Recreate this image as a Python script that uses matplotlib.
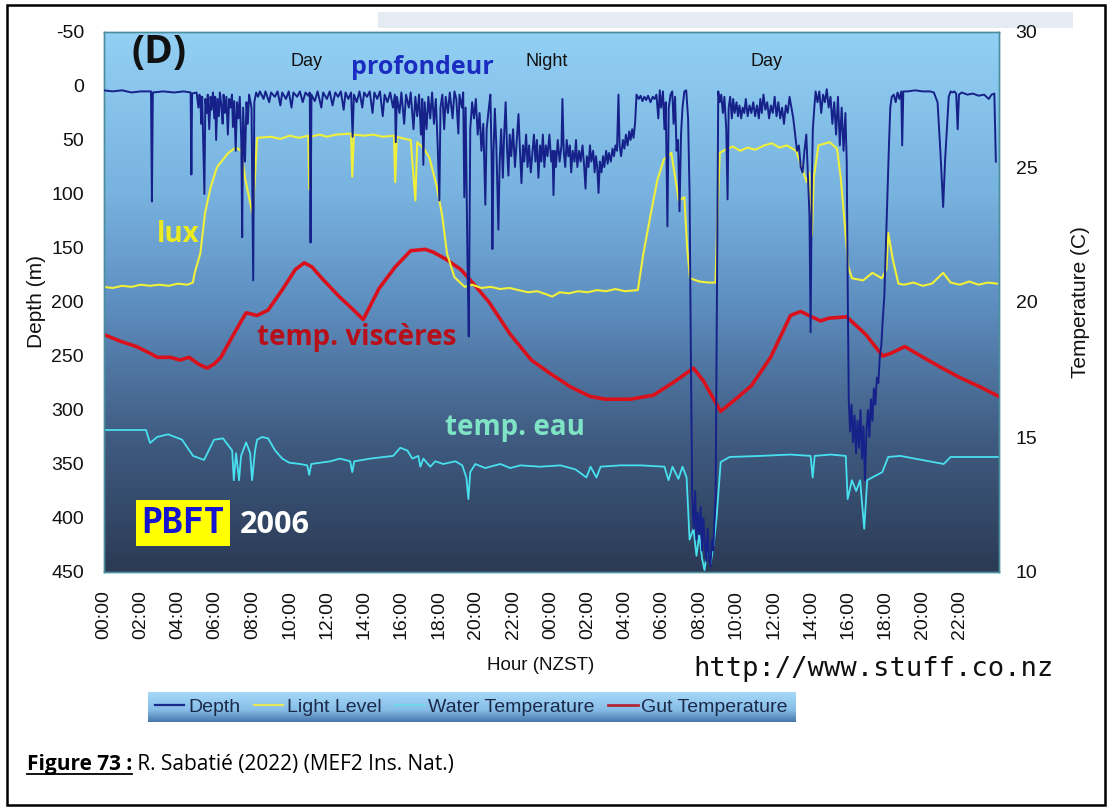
import numpy as np
import matplotlib
matplotlib.use('Agg')
import matplotlib.pyplot as plt
from matplotlib.colors import LinearSegmentedColormap
from matplotlib.patches import Rectangle
from matplotlib.lines import Line2D

plt.rcParams['font.family'] = ['Liberation Sans', 'DejaVu Sans']
plt.rcParams['axes.unicode_minus'] = False

# ---------------- data (hours since 00:00 of day 1) ----------------
depth_h = [0, 0.5, 1.0, 1.5, 2.0, 2.55, 2.6, 2.65, 3.2, 3.8, 4.3, 4.68, 4.72, 4.76, 5.0, 5.1, 5.15,
           5.2, 5.25, 5.3, 5.42, 5.47, 5.55, 5.6, 5.68, 5.75, 5.8, 5.88, 5.95, 6.0, 6.05, 6.12, 6.2, 6.25, 6.33, 6.4, 6.45,
           6.52, 6.6, 6.68, 6.75, 6.82, 6.9, 6.95, 7.02, 7.1, 7.17, 7.25, 7.32, 7.4, 7.45, 7.5, 7.6, 7.68, 7.75, 7.82, 7.95,
           8.04, 8.1, 8.2, 8.3,
           8.4, 8.6, 8.7, 8.9, 9.0, 9.2, 9.35, 9.5, 9.6, 9.8, 9.95, 10.1, 10.2, 10.4, 10.55, 10.7, 10.85, 11.0, 11.08, 11.12,
           11.17, 11.35, 11.5, 11.7, 11.8, 12.0, 12.15, 12.3, 12.45, 12.6, 12.75, 12.9, 13.0, 13.15, 13.3, 13.38, 13.45, 13.6, 13.75, 13.9,
           14.0, 14.15, 14.3, 14.45, 14.55, 14.7, 14.85, 15.0, 15.1, 15.25, 15.4, 15.55, 15.65, 15.7, 15.76, 15.9, 16.0, 16.15, 16.25, 16.4,
           16.5, 16.65, 16.75, 16.85, 16.95, 17.05, 17.12, 17.18, 17.25, 17.35, 17.45, 17.55, 17.65, 17.75, 17.85, 17.95, 18.04, 18.1, 18.2, 18.3,
           18.38, 18.5, 18.6, 18.75, 18.85, 18.95, 19.06, 19.12, 19.25, 19.32, 19.38, 19.45, 19.55, 19.62, 19.7, 19.8,
           19.9, 20.0, 20.1, 20.2, 20.3, 20.4, 20.51, 20.58, 20.7, 20.78, 20.85, 20.89, 20.95, 21.02, 21.1, 21.21, 21.28, 21.36, 21.45, 21.52,
           21.6, 21.68, 21.75, 21.82, 21.9, 22.0, 22.1, 22.2, 22.29, 22.37, 22.45, 22.53, 22.6, 22.7, 22.78, 22.86, 22.95, 23.04, 23.12, 23.2,
           23.28, 23.36, 23.45, 23.52, 23.6, 23.68, 23.76, 23.85, 23.95, 24.05, 24.12, 24.17, 24.23, 24.3, 24.4, 24.5, 24.6, 24.65, 24.72, 24.8,
           24.88, 24.97, 25.05, 25.12, 25.2, 25.3, 25.38, 25.45, 25.55, 25.63, 25.73, 25.82, 25.89, 25.96, 26.05, 26.13, 26.2, 26.3, 26.38, 26.45,
           26.52, 26.59, 26.66, 26.75, 26.83, 26.9, 27.0, 27.08, 27.15, 27.25, 27.34, 27.42, 27.5, 27.58, 27.66, 27.72, 27.8, 27.9, 27.98, 28.06,
           28.15, 28.24, 28.31, 28.4, 28.47, 28.55,
           28.63, 28.75, 28.85, 28.95, 29.05, 29.15, 29.25, 29.38, 29.5, 29.6, 29.7, 29.8, 29.88, 29.95, 30.05, 30.13, 30.2, 30.29, 30.36, 30.46,
           30.55, 30.62, 30.7, 30.78, 30.86, 30.94, 31.02, 31.1, 31.2, 31.3, 31.4,
           31.48, 31.55, 31.62, 31.7, 31.78, 31.85, 31.92, 32.0, 32.08, 32.15, 32.22, 32.3, 32.38, 32.45, 32.52, 32.6, 32.68, 32.75, 32.82, 32.88,
           32.95, 33.02,
           33.1, 33.18, 33.27, 33.35, 33.45, 33.52, 33.58, 33.66, 33.75, 33.82, 33.9, 34.0, 34.08, 34.16, 34.25, 34.33, 34.42, 34.5, 34.6, 34.7,
           34.8, 34.9, 35.0, 35.1, 35.2, 35.28, 35.36, 35.45, 35.55, 35.65, 35.75, 35.85, 35.95, 36.05, 36.15, 36.25, 36.35, 36.45, 36.55, 36.65,
           36.75, 36.85, 36.95, 37.05, 37.15, 37.25, 37.35, 37.45, 37.55, 37.65, 37.75, 37.85, 37.92, 37.98, 38.04, 38.1, 38.18, 38.25, 38.35, 38.45,
           38.55, 38.65, 38.75, 38.85, 38.95, 39.05, 39.15, 39.25, 39.35, 39.45, 39.55, 39.65, 39.75, 39.85, 39.92,
           39.98, 40.03, 40.1, 40.18, 40.26, 40.34, 40.42, 40.5, 40.58, 40.66, 40.74, 40.82, 40.9, 40.98, 41.06, 41.14, 41.22, 41.3, 41.38, 41.46,
           41.54, 41.62, 41.7, 41.78, 41.86, 41.94, 42.02, 42.1, 42.18, 42.26, 42.34,
           42.45, 42.55, 42.65, 42.75, 42.85, 42.9, 42.96, 43.2, 43.6, 44.0, 44.4, 44.6, 44.8, 44.95, 45.1, 45.2, 45.3, 45.4, 45.5, 45.6,
           45.7, 45.8, 45.88, 45.95, 46.1, 46.4, 46.7, 47.0, 47.3, 47.55, 47.7, 47.85, 47.93]
depth_m = [4, 5, 4, 6, 5, 5, 107, 6, 5, 6, 5, 6, 82, 7, 6, 20, 8,
           10, 35, 10, 100, 12, 25, 8, 40, 10, 22, 6, 30, 10, 50, 12, 28, 6, 18, 35, 8,
           25, 10, 45, 12, 20, 8, 38, 14, 60, 15, 30, 10, 50, 140, 20, 70, 15, 35, 8, 20,
           180, 15, 6, 10,
           5, 12, 5, 15, 6, 10, 5, 18, 6, 12, 5, 20, 6, 10, 5, 15, 6, 9, 6, 145,
           8, 14, 5, 20, 6, 12, 5, 18, 6, 10, 5, 22, 6, 12, 6, 47, 8, 15, 5, 20,
           6, 10, 5, 25, 6, 12, 5, 28, 8, 15, 6, 20, 8, 52, 10, 25, 6, 35, 8, 20,
           6, 40, 10, 28, 8, 45, 12, 73, 15, 40, 10, 30, 6, 35, 12, 55, 106, 20, 8, 40,
           10, 25, 6, 30, 5, 12, 44, 8, 20, 6, 103, 20, 161, 232, 40, 15,
           30, 12, 45, 25, 60, 35, 110, 40, 20, 8, 70, 151, 60, 21, 55, 133, 70, 40, 85, 45,
           15, 60, 83, 45, 65, 40, 75, 50, 26, 60, 90, 55, 70, 45, 75, 55, 80, 62, 45, 70,
           50, 85, 55, 70, 45, 75, 55, 65, 45, 70, 60, 101, 60, 75, 50, 70, 55, 12, 60, 75,
           50, 65, 55, 80, 60, 70, 50, 75, 60, 70, 55, 75, 95, 65, 75, 55, 70, 60, 80, 65,
           75, 99, 70, 80, 65, 75, 60, 72, 62, 70, 58, 65, 55, 60, 8, 55, 65, 50, 58, 45,
           55, 42, 50, 40, 48, 35,
           8, 12, 9, 14, 10, 13, 9, 15, 10, 12, 8, 30, 4, 20, 5, 40, 15, 130, 20, 8,
           5, 35, 10, 60, 50, 116, 45, 20, 5, 4, 30,
           100, 250, 380, 410, 375, 420, 395, 415, 390, 430, 400, 425, 440, 410, 435, 445, 420, 430, 400, 380,
           200, 5,
           15, 8, 25, 10, 40, 105, 20, 10, 30, 12, 25, 15, 28, 18, 30, 20, 25, 12, 28, 18,
           25, 15, 28, 18, 30, 12, 25, 8, 22, 15, 30, 18, 25, 10, 28, 15, 30, 20, 35, 18,
           25, 10, 20, 30, 45, 60, 55, 75, 80, 60, 45, 90, 120, 228, 100, 40, 20, 5, 15, 5,
           25, 8, 15, 3, 20, 10, 35, 15, 45, 10, 55, 20, 60, 25, 70,
           200, 290, 320, 295, 330, 305, 340, 310, 335, 300, 345, 315, 365, 320, 300, 325, 290, 310, 280, 295,
           270, 275, 250, 240, 215, 195, 150, 105, 60, 20, 10,
           8, 15, 6, 12, 5, 55, 5, 5, 4, 5, 5, 6, 15, 60, 112, 70, 40, 10, 5, 6,
           5, 7, 40, 8, 6, 8, 7, 9, 8, 12, 8, 7, 70]

light_h = [0, 0.5, 1, 1.5, 2, 2.5, 3, 3.5, 4, 4.5, 4.8, 4.9, 5.2, 5.45, 5.75, 6.1, 6.7, 7.1, 7.4, 7.6,
           7.9, 8.0, 8.1, 8.25, 9.0, 9.5, 10.0, 10.5, 11.0, 11.05, 11.12, 11.6, 12.0, 12.5, 13.3, 13.36, 13.45, 14.0, 14.5, 15.0,
           15.6, 15.67, 15.75, 16.2, 16.5, 16.75, 16.85, 17.2, 17.5, 17.9, 18.2, 18.45, 18.85, 19.4, 19.8, 20.3, 20.8, 21.3, 21.8, 22.3,
           22.8, 23.3, 23.8, 24.1, 24.5, 25, 25.5, 26, 26.5, 27, 27.5, 28, 28.7, 29.0, 29.4, 29.75, 30.1, 30.5, 30.9, 31.2,
           31.35, 31.5, 32, 32.5, 32.87, 32.98, 33.1, 33.4, 33.8, 34.2, 34.6, 35, 35.5, 35.9, 36.3, 36.7, 37.2, 37.5, 37.77, 37.9,
           38.05, 38.15, 38.4, 39.0, 39.4, 39.6, 39.8, 40.0, 40.2, 40.8, 41.3, 41.8, 42.05, 42.15, 42.4, 42.7, 43.0, 43.5, 44.0, 44.5,
           45.1, 45.5, 46.0, 46.5, 47.0, 47.5, 48.0]
light_v = [186, 187, 185, 186, 184, 185, 184, 185, 183, 184, 182, 173, 155, 118, 94, 75, 62, 57, 60, 85,
           110, 118, 95, 48, 47, 49, 46, 48, 46, 96, 47, 45, 47, 45, 44, 84, 45, 46, 45, 47,
           46, 89, 47, 49, 50, 106, 52, 58, 66, 93, 121, 155, 177, 186, 184, 187, 186, 188, 187, 189,
           191, 190, 193, 195, 191, 192, 190, 191, 189, 190, 188, 190, 189, 155, 118, 87, 68, 62, 106, 103,
           150, 178, 181, 182, 182, 120, 62, 59, 56, 60, 57, 59, 55, 53, 57, 55, 60, 75, 89, 80,
           138, 85, 55, 52, 58, 85, 125, 167, 178, 180, 173, 178, 170, 136, 161, 183, 184, 182, 185, 183,
           173, 182, 184, 181, 184, 182, 183]

gut_h = [0, 0.89, 1.77, 2.5, 2.9, 3.6, 4.1, 4.6, 5.1, 5.57, 5.94, 6.3, 7.07, 7.66, 8.25, 8.84, 9.6, 10.3, 10.78, 11.2,
         11.7, 12.66, 13.36, 13.95, 14.8, 15.67, 16.5, 17.28, 17.7, 18.36, 19.2, 19.97, 20.7, 21.85, 22.98, 24.0, 25.1, 26.15, 26.96, 28.3,
         29.54, 30.67, 31.69, 32.2, 33.15, 33.95, 34.8, 35.83, 36.9, 37.45, 38.04, 38.52, 38.95, 39.92, 40.94, 41.85, 42.3, 43.04, 43.9, 44.92,
         46.0, 47.1, 48.1]
gut_t = [18.8, 18.55, 18.35, 18.1, 17.95, 17.95, 17.85, 17.95, 17.7, 17.55, 17.7, 17.95, 18.9, 19.6, 19.5, 19.7, 20.45, 21.2, 21.45, 21.3,
         20.9, 20.2, 19.75, 19.35, 20.5, 21.3, 21.9, 21.95, 21.85, 21.6, 21.2, 20.6, 20.0, 18.8, 17.85, 17.35, 16.85, 16.5, 16.4, 16.4,
         16.55, 17.05, 17.55, 17.1, 15.95, 16.4, 16.9, 17.95, 19.5, 19.65, 19.45, 19.3, 19.4, 19.45, 18.8, 18.0, 18.1, 18.35, 18.0, 17.6,
         17.2, 16.85, 16.5]

water_h = [0, 2.28, 2.5, 2.88, 3.47, 4.22, 4.81, 5.4, 5.94, 6.42, 6.91, 7.0, 7.12, 7.28, 7.39, 7.66, 7.88, 7.98, 8.14, 8.25,
           8.52, 8.84, 9.22, 9.6, 9.97, 10.56, 10.94, 11.05, 11.16, 12.18, 12.71, 13.25, 13.36, 13.47, 14.33, 15.56, 15.94, 16.32, 16.59, 16.91,
           17.02, 17.18, 17.55, 17.82, 18.25, 18.9, 19.27, 19.49, 19.6, 19.7, 19.97, 20.5, 21.32, 21.85, 22.39, 23.46, 24.54, 25.35, 25.94, 26.16,
           26.48, 26.7, 27.77, 28.84, 30.13, 30.35, 30.56, 30.88, 31.1, 31.32, 31.48, 31.69, 31.85, 32.0, 32.15, 32.28, 32.45, 32.61, 32.77, 32.93,
           33.15, 33.63, 35.3, 36.9, 37.98, 38.09, 38.2, 39.06, 39.87, 39.97, 40.2, 40.43, 40.64, 40.86, 41.02, 41.29, 41.83, 42.15, 42.8, 45.13,
           45.5, 48.1]
water_t = [15.26, 15.26, 14.78, 15.0, 15.1, 14.9, 14.3, 14.15, 14.9, 14.95, 14.5, 13.4, 14.4, 13.4, 14.3, 14.8, 14.4, 13.4, 14.5, 14.9,
           15.0, 14.95, 14.5, 14.2, 14.05, 14.0, 13.95, 13.6, 14.0, 14.1, 14.2, 14.1, 13.7, 14.1, 14.2, 14.3, 14.6, 14.5, 14.2, 14.3,
           13.9, 14.2, 13.9, 14.1, 14.0, 14.1, 13.95, 13.5, 12.7, 13.7, 14.0, 13.85, 14.0, 13.85, 13.95, 13.9, 13.95, 13.8, 13.5, 13.9,
           13.5, 13.9, 13.95, 13.95, 13.9, 13.4, 13.9, 13.45, 13.9, 13.5, 11.2, 11.6, 10.6, 11.4, 10.5, 10.07, 10.9, 10.3, 11.0, 12.0,
           14.07, 14.26, 14.3, 14.35, 14.3, 13.5, 14.3, 14.35, 14.3, 12.7, 13.4, 13.0, 13.4, 11.6, 13.4, 13.5, 13.7, 14.26, 14.3, 14.0,
           14.26, 14.26]

xtick_hours = list(range(0, 47, 2))
xtick_labels = ['%02d:00' % (h % 24) for h in xtick_hours]
depth_ticks = list(range(-50, 451, 50))
temp_ticks = [10, 15, 20, 25, 30]
legend_labels = ['Depth', 'Light Level', 'Water Temperature', 'Gut Temperature']

# ---------------- figure ----------------
W, H = 1112, 810
fig = plt.figure(figsize=(W / 100, H / 100), dpi=100)
fig.patch.set_facecolor('white')


def fx(x):
    return x / W


def fy(y):
    return 1 - y / H


L, R, T, B = 103.5, 999, 32, 572
ax_t = fig.add_axes([fx(L), fy(B), (R - L) / W, (B - T) / H])
ax_d = ax_t.twinx()

bg_cmap = LinearSegmentedColormap.from_list('bg', [(0, '#93d0f4'), (0.3, '#78b2df'), (0.5, '#5e8fc1'),
                                                   (0.75, '#405c82'), (1.0, '#2b3a55')])
ax_t.imshow(np.linspace(0, 1, 256).reshape(-1, 1), extent=[0, 1, 0, 1], transform=ax_t.transAxes,
            cmap=bg_cmap, aspect='auto', zorder=0)

ax_t.plot(water_h, water_t, color='#48e0ef', lw=1.3, zorder=2)
ax_t.plot(gut_h, gut_t, color='#d8111c', lw=2.6, zorder=3)
ax_d.plot(light_h, light_v, color='#f0f03a', lw=1.5, zorder=2)
ax_d.plot(depth_h, depth_m, color='#16228a', lw=1.4, zorder=3)

ax_t.set_xlim(0, 48.1)
ax_t.set_ylim(10, 30)
ax_d.set_ylim(450, -50)
ax_t.yaxis.tick_right()
ax_t.yaxis.set_label_position('right')
ax_d.yaxis.tick_left()
ax_d.yaxis.set_label_position('left')

ax_t.set_yticks(temp_ticks)
ax_d.set_yticks(depth_ticks)
ax_t.set_xticks(xtick_hours)
ax_t.set_xticklabels(xtick_labels, rotation=90)
ax_t.tick_params(axis='x', length=0, pad=13, labelsize=14, colors='#111111')
ax_t.tick_params(axis='y', length=0, pad=12, labelsize=14, colors='#111111')
ax_d.tick_params(axis='y', length=0, pad=14, labelsize=14, colors='#111111')
ax_t.set_ylabel('Temperature (C)', fontsize=15, color='#111111', labelpad=24)
ax_d.set_ylabel('Depth (m)', fontsize=15, color='#111111', labelpad=4)
for a in (ax_t, ax_d):
    for s in a.spines.values():
        s.set_color('#4b8e9c')
        s.set_linewidth(1.0)

# ---------------- annotations ----------------
def ftxt(x, y, s, **kw):
    return fig.text(fx(x), fy(y), s, **kw)


ftxt(159, 52, '(D)', family='Open Sans', weight='bold', fontsize=28, color='#111111', ha='center', va='center')
ftxt(306, 62, 'Day', fontsize=13, color='#111111', ha='center', va='center')
ftxt(547, 62, 'Night', fontsize=13, color='#111111', ha='center', va='center')
ftxt(767, 62, 'Day', fontsize=13, color='#111111', ha='center', va='center')
ftxt(422, 68, 'profondeur', family='Open Sans', weight='bold', fontsize=18, color='#1a2dc0', ha='center', va='center')
ftxt(178, 235, 'lux', family='Open Sans', weight='bold', fontsize=20, color='#eaea22', ha='center', va='center')
ftxt(357, 338, 'temp. viscères', family='Open Sans', weight='bold', fontsize=20, color='#b8101a', ha='center', va='center')
ftxt(515, 427, 'temp. eau', family='Open Sans', weight='bold', fontsize=20, color='#7fe3c6', ha='center', va='center')
ftxt(183, 523, 'PBFT', family='DejaVu Sans Mono', weight='bold', fontsize=25, color='#1515d0', ha='center', va='center',
     bbox=dict(facecolor='#ffff00', edgecolor='none', pad=4))
ftxt(275, 525, '2006', family='Open Sans', weight='bold', fontsize=22, color='white', ha='center', va='center')

ftxt(541, 666, 'Hour (NZST)', fontsize=13.5, color='#111111', ha='center', va='center')
ftxt(693, 676, 'http://www.stuff.co.nz', family='DejaVu Sans Mono', fontsize=19.5, color='#111111',
     ha='left', va='baseline')

# ---------------- legend ----------------
lax = fig.add_axes([fx(148), fy(722), (795 - 148) / W, 30 / H])
leg_cmap = LinearSegmentedColormap.from_list('leg', [(0, '#a6d8f7'), (0.6, '#86bde8'), (1.0, '#4a78ad')])
lax.imshow(np.linspace(0, 1, 64).reshape(-1, 1), extent=[0, 1, 0, 1], cmap=leg_cmap, aspect='auto')
lax.set_xlim(0, 1)
lax.set_ylim(0, 1)
lax.axis('off')
handles = [Line2D([], [], color='#1a2a8c', lw=1.6), Line2D([], [], color='#e6e85a', lw=1.6),
           Line2D([], [], color='#6fd8ea', lw=1.6), Line2D([], [], color='#b0283a', lw=2.0)]
lax.legend(handles, legend_labels, loc='center', ncol=4, frameon=False, fontsize=14,
           handlelength=1.5, handletextpad=0.2, columnspacing=0.7, labelcolor='#1c2a4a',
           borderaxespad=0, borderpad=0)

# ---------------- page decorations ----------------
fig.patches.append(Rectangle((fx(378), fy(28)), (1073 - 378) / W, 16 / H, transform=fig.transFigure,
                             facecolor='#e4ebf3', edgecolor='none', zorder=-1))
fig.patches.append(Rectangle((fx(7), fy(805)), (1105 - 7) / W, 800 / H, transform=fig.transFigure,
                             facecolor='none', edgecolor='black', lw=1.8, zorder=5))

renderer = fig.canvas.get_renderer()
cap1 = ftxt(27, 770, 'Figure 73 :', family='Open Sans', weight='bold', fontsize=15, color='black',
            ha='left', va='baseline')
bb = cap1.get_window_extent(renderer=renderer)
fig.lines.append(Line2D([bb.x0 / W, bb.x1 / W], [fy(774), fy(774)], transform=fig.transFigure,
                        color='black', lw=1.3))
fig.text(bb.x1 / W, fy(770), ' R. Sabatié (2022) (MEF2 Ins. Nat.)', family='Open Sans', fontsize=15,
         color='black', ha='left', va='baseline')

fig.savefig('out.png', dpi=100, facecolor='white')
